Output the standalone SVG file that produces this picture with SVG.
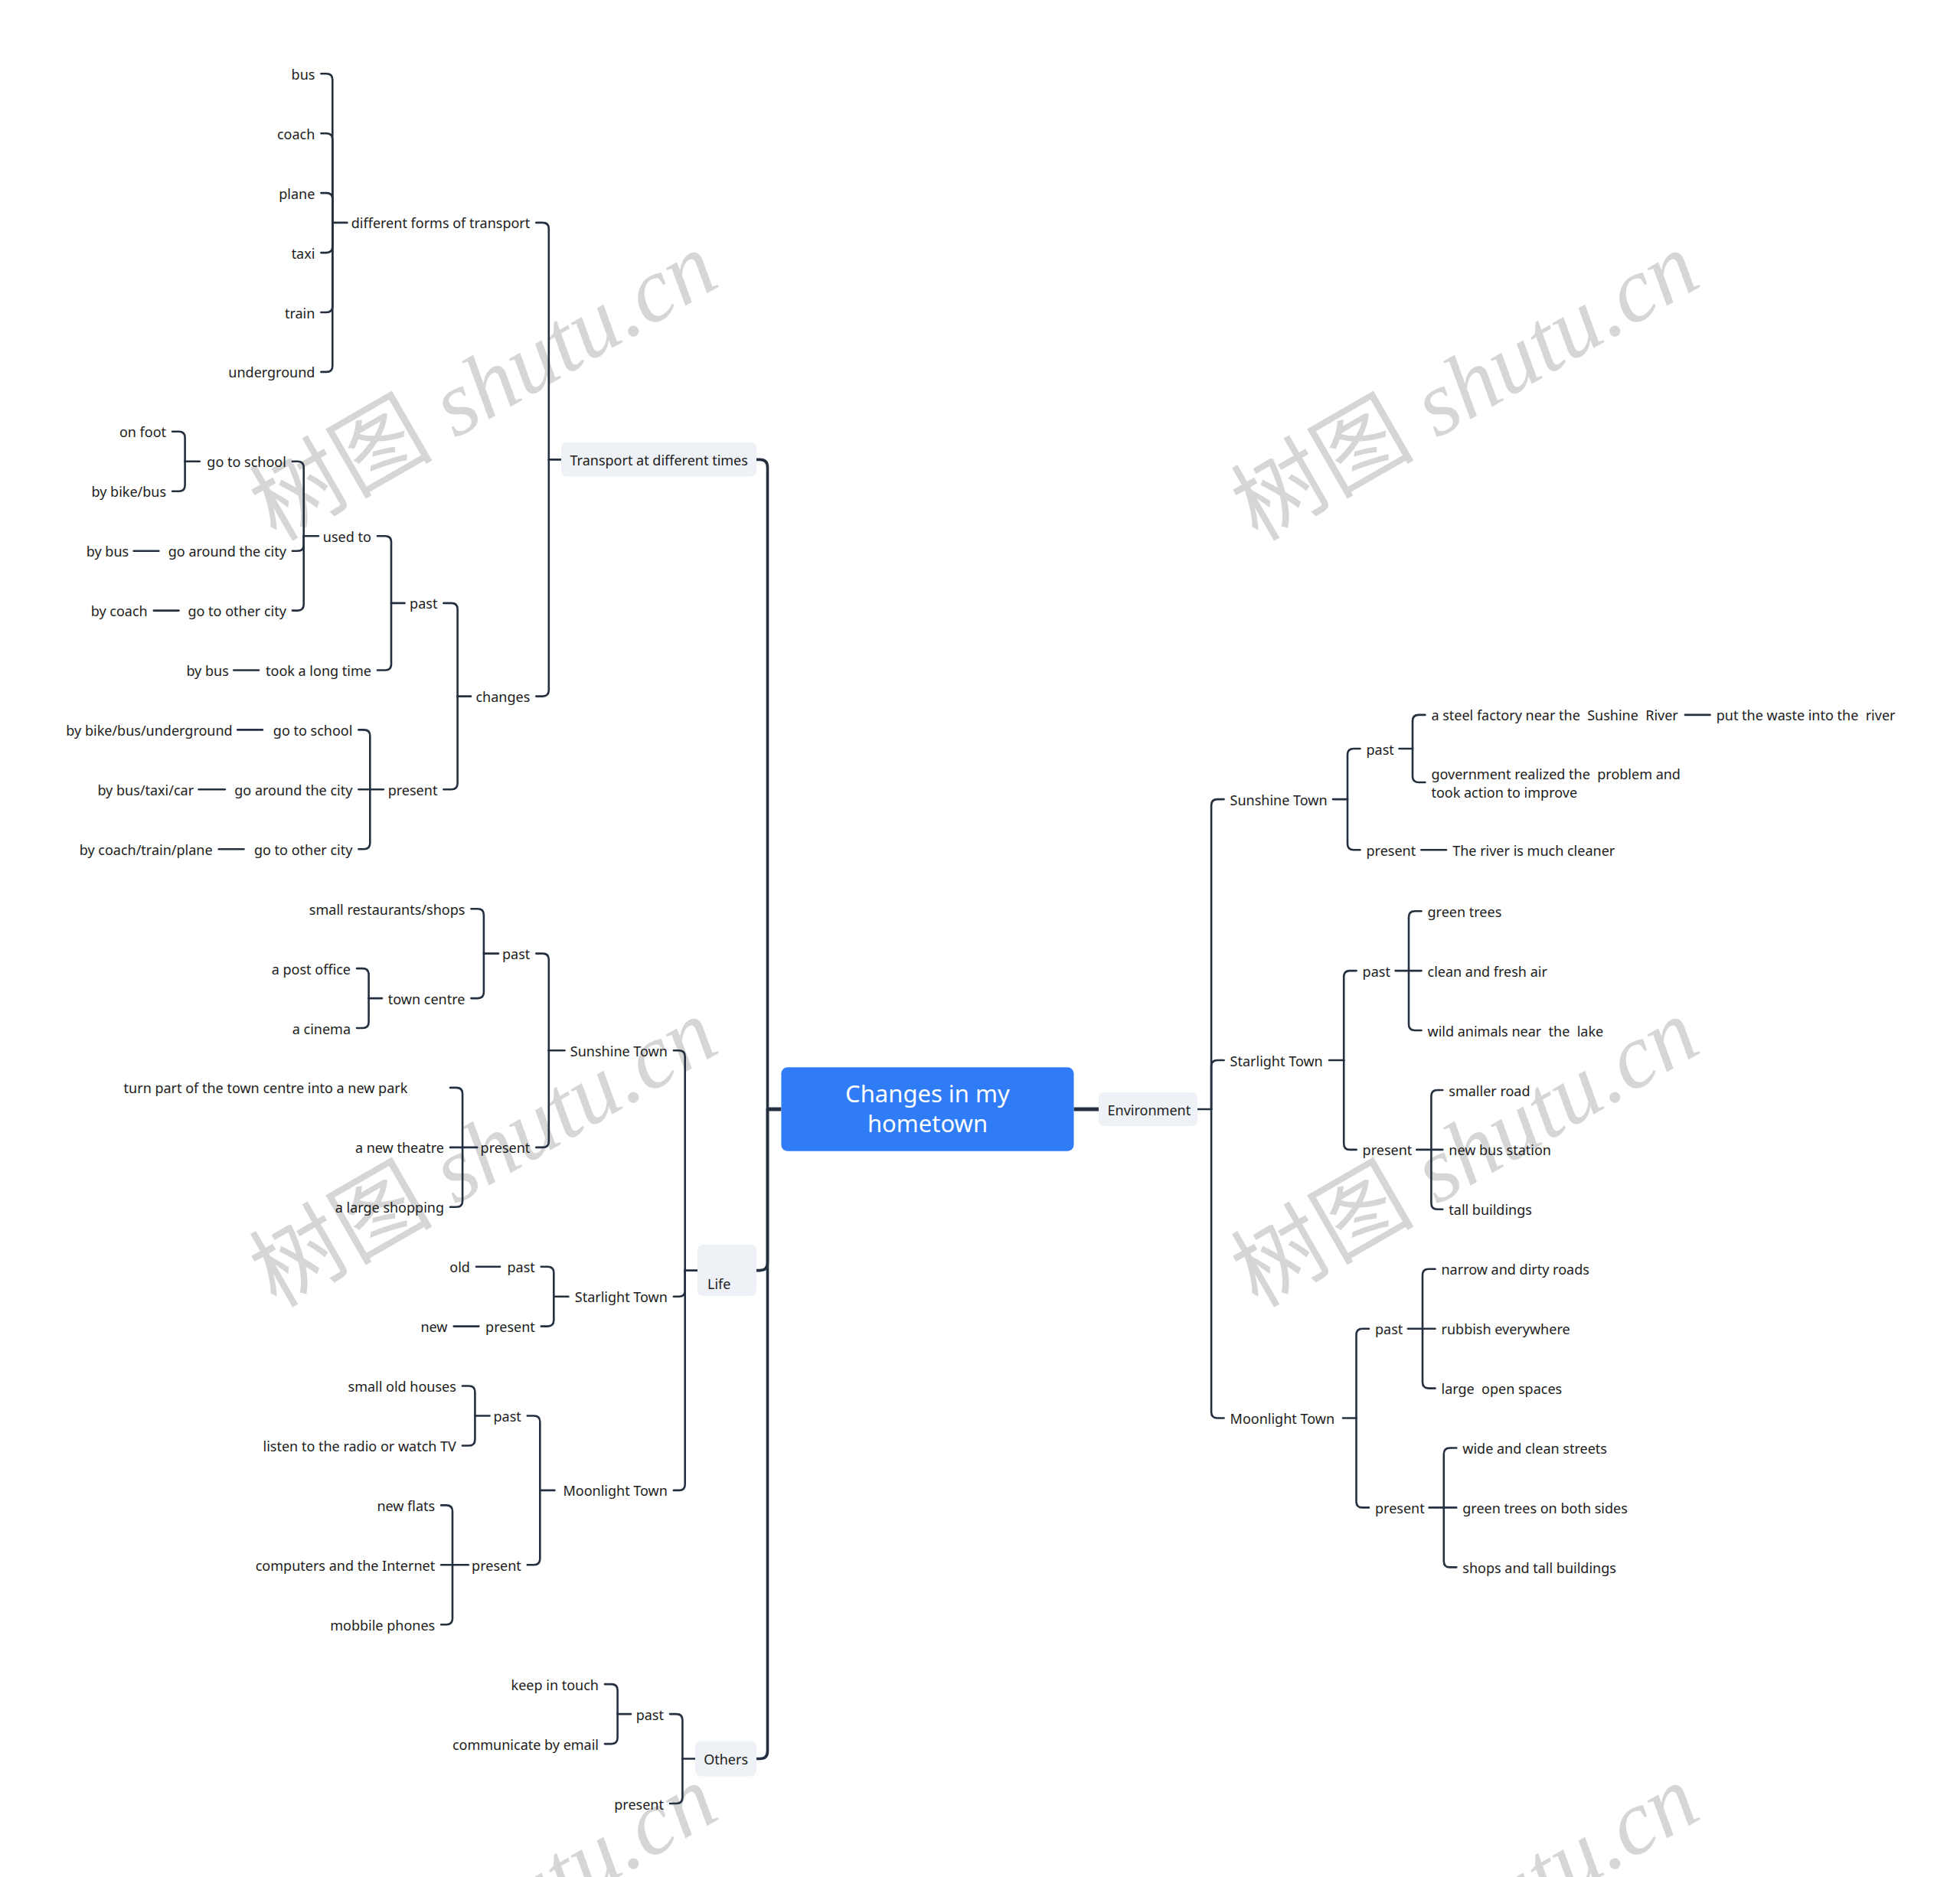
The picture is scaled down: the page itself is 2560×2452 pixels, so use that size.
<svg xmlns="http://www.w3.org/2000/svg" width="2560" height="2452" viewBox="0 0 2560 2452">
<style>
.t{font-family:"Noto Sans","Open Sans","Liberation Sans",sans-serif;font-size:18px;fill:#1c1c1c;white-space:pre;transform:translateY(1.5px)}
.e{text-anchor:end}
.c path{fill:none;stroke:#243040;stroke-width:2.6;stroke-linecap:round;stroke-linejoin:round}
.c path.m{stroke-width:3.6}
.c path.h{stroke-width:5;stroke-linecap:butt}
.box{fill:#eef1f5}
.wm{font-family:"Liberation Serif","Noto Sans CJK SC",serif;font-size:120px;fill:#d6d6d6;text-anchor:middle}
.wm tspan.i{font-style:italic}
.title{font-family:"Noto Sans","Open Sans",sans-serif;font-size:31px;fill:#ffffff;text-anchor:middle}
</style>
<rect width="2560" height="2452" fill="#ffffff"/>
<g id="watermarks">
<text class="wm" transform="translate(652,540) rotate(-30)">树图 <tspan class="i">shutu.cn</tspan></text>
<text class="wm" transform="translate(1934,540) rotate(-30)">树图 <tspan class="i">shutu.cn</tspan></text>
<text class="wm" transform="translate(652,1541) rotate(-30)">树图 <tspan class="i">shutu.cn</tspan></text>
<text class="wm" transform="translate(1934,1541) rotate(-30)">树图 <tspan class="i">shutu.cn</tspan></text>
<text class="wm" transform="translate(652,2542) rotate(-30)">树图 <tspan class="i">shutu.cn</tspan></text>
<text class="wm" transform="translate(1934,2542) rotate(-30)">树图 <tspan class="i">shutu.cn</tspan></text>
</g>
<g id="connectors" class="c">
<path class="h" d="M1020.4,1449 H1002.5"/>
<path class="h" d="M1402.5,1449 H1435"/>
<path class="m" d="M988,600.4 H992.5 Q1002.5,600.4 1002.5,610.4 V1449"/>
<path class="m" d="M988,1659.6 H992.5 Q1002.5,1659.6 1002.5,1649.6 V1449"/>
<path class="m" d="M988,2297.5 H992.5 Q1002.5,2297.5 1002.5,2287.5 V1449"/>
<path d="M733,600.4 H716.8"/>
<path d="M700.3,290.9 H708.8 Q716.8,290.9 716.8,298.9 V600.4"/>
<path d="M700.3,909.6 H708.8 Q716.8,909.6 716.8,901.6 V600.4"/>
<path d="M453.4,290.9 H434.3"/>
<path d="M419.4,96.3 H426.3 Q434.3,96.3 434.3,104.3 V290.9"/>
<path d="M419.4,174.2 H426.3 Q434.3,174.2 434.3,182.2 V290.9"/>
<path d="M419.4,252.1 H426.3 Q434.3,252.1 434.3,260.1 V290.9"/>
<path d="M419.4,330.1 H426.3 Q434.3,330.1 434.3,322.1 V290.9"/>
<path d="M419.4,408 H426.3 Q434.3,408 434.3,400 V290.9"/>
<path d="M419.4,485.9 H426.3 Q434.3,485.9 434.3,477.9 V290.9"/>
<path d="M615,909.6 H597.6"/>
<path d="M579.4,787.9 H589.6 Q597.6,787.9 597.6,795.9 V909.6"/>
<path d="M579.4,1031.3 H589.6 Q597.6,1031.3 597.6,1023.3 V909.6"/>
<path d="M528.5,787.9 H511"/>
<path d="M492.9,700.2 H503 Q511,700.2 511,708.2 V787.9"/>
<path d="M492.9,875.5 H503 Q511,875.5 511,867.5 V787.9"/>
<path d="M305.3,875.5 H338"/>
<path d="M415.9,700.2 H396.7"/>
<path d="M381.9,602.7 H388.7 Q396.7,602.7 396.7,610.7 V700.2"/>
<path d="M381.9,719.7 H388.7 Q396.7,719.7 396.7,711.7 V700.2"/>
<path d="M381.9,797.6 H388.7 Q396.7,797.6 396.7,789.6 V700.2"/>
<path d="M174.7,719.7 H207.4"/>
<path d="M200.8,797.6 H233.5"/>
<path d="M260.8,602.7 H241.6"/>
<path d="M225.1,563.8 H233.6 Q241.6,563.8 241.6,571.8 V602.7"/>
<path d="M225.1,641.7 H233.6 Q241.6,641.7 241.6,633.7 V602.7"/>
<path d="M500.8,1031.3 H483.3"/>
<path d="M468.4,953.4 H475.3 Q483.3,953.4 483.3,961.4 V1031.3"/>
<path d="M468.4,1031.3 H483.3"/>
<path d="M468.4,1109.3 H475.3 Q483.3,1109.3 483.3,1101.3 V1031.3"/>
<path d="M310.2,953.4 H342.9"/>
<path d="M259.6,1031.3 H293.9"/>
<path d="M285.7,1109.3 H318.4"/>
<path d="M911,1659.6 H894.7"/>
<path d="M879.9,1372.3 H886.7 Q894.7,1372.3 894.7,1380.3 V1659.6"/>
<path d="M879.9,1693.7 H886.7 Q894.7,1693.7 894.7,1685.7 V1659.6"/>
<path d="M879.9,1946.9 H886.7 Q894.7,1946.9 894.7,1938.9 V1659.6"/>
<path d="M737.5,1372.3 H716.8"/>
<path d="M700.3,1245.6 H708.8 Q716.8,1245.6 716.8,1253.6 V1372.3"/>
<path d="M700.3,1498.9 H708.8 Q716.8,1498.9 716.8,1490.9 V1372.3"/>
<path d="M651,1245.6 H631.9"/>
<path d="M615.4,1187.2 H623.9 Q631.9,1187.2 631.9,1195.2 V1245.6"/>
<path d="M615.4,1304.1 H623.9 Q631.9,1304.1 631.9,1296.1 V1245.6"/>
<path d="M499.1,1304.1 H481.6"/>
<path d="M466,1265.1 H473.6 Q481.6,1265.1 481.6,1273.1 V1304.1"/>
<path d="M466,1343 H473.6 Q481.6,1343 481.6,1335 V1304.1"/>
<path d="M623.2,1498.9 H604.1"/>
<path d="M588,1420.9 H596.1 Q604.1,1420.9 604.1,1428.9 V1498.9"/>
<path d="M588,1498.9 H604.1"/>
<path d="M588,1576.8 H596.1 Q604.1,1576.8 604.1,1568.8 V1498.9"/>
<path d="M742.4,1693.7 H723.3"/>
<path d="M706.8,1654.7 H715.3 Q723.3,1654.7 723.3,1662.7 V1693.7"/>
<path d="M706.8,1732.6 H715.3 Q723.3,1732.6 723.3,1724.6 V1693.7"/>
<path d="M622,1654.7 H653.1"/>
<path d="M592.7,1732.6 H625.3"/>
<path d="M724.4,1946.9 H705.3"/>
<path d="M688.8,1849.5 H697.3 Q705.3,1849.5 705.3,1857.5 V1946.9"/>
<path d="M688.8,2044.3 H697.3 Q705.3,2044.3 705.3,2036.3 V1946.9"/>
<path d="M639.5,1849.5 H620.4"/>
<path d="M603.9,1810.5 H612.4 Q620.4,1810.5 620.4,1818.5 V1849.5"/>
<path d="M603.9,1888.5 H612.4 Q620.4,1888.5 620.4,1880.5 V1849.5"/>
<path d="M611.8,2044.3 H591"/>
<path d="M576.2,1966.4 H583 Q591,1966.4 591,1974.4 V2044.3"/>
<path d="M576.2,2044.3 H591"/>
<path d="M576.2,2122.2 H583 Q591,2122.2 591,2114.2 V2044.3"/>
<path d="M907.8,2297.5 H891.4"/>
<path d="M875,2239.1 H883.4 Q891.4,2239.1 891.4,2247.1 V2297.5"/>
<path d="M875,2356 H883.4 Q891.4,2356 891.4,2348 V2297.5"/>
<path d="M824,2239.1 H806.6"/>
<path d="M790,2200.1 H798.6 Q806.6,2200.1 806.6,2208.1 V2239.1"/>
<path d="M790,2278.1 H798.6 Q806.6,2278.1 806.6,2270.1 V2239.1"/>
<path d="M1564.1,1449 H1582.1"/>
<path d="M1598.6,1044.1 H1590.1 Q1582.1,1044.1 1582.1,1052.1 V1449"/>
<path d="M1598.6,1385 H1590.1 Q1582.1,1385 1582.1,1393 V1449"/>
<path d="M1598.6,1852.5 H1590.1 Q1582.1,1852.5 1582.1,1844.5 V1449"/>
<path d="M1740.9,1044.1 H1760"/>
<path d="M1776.5,978 H1768 Q1760,978 1760,986 V1044.1"/>
<path d="M1776.5,1110.2 H1768 Q1760,1110.2 1760,1102.2 V1044.1"/>
<path d="M1827.5,978 H1845"/>
<path d="M1861.4,933.9 H1853 Q1845,933.9 1845,941.9 V978"/>
<path d="M1861.4,1022 H1853 Q1845,1022 1845,1014 V978"/>
<path d="M2200.9,933.9 H2233.5"/>
<path d="M1856.4,1110.2 H1889"/>
<path d="M1736,1385 H1755.2"/>
<path d="M1771.6,1268.1 H1763.2 Q1755.2,1268.1 1755.2,1276.1 V1385"/>
<path d="M1771.6,1501.9 H1763.2 Q1755.2,1501.9 1755.2,1493.9 V1385"/>
<path d="M1822.6,1268.1 H1840"/>
<path d="M1856.5,1190.2 H1848 Q1840,1190.2 1840,1198.2 V1268.1"/>
<path d="M1856.5,1268.1 H1840"/>
<path d="M1856.5,1346 H1848 Q1840,1346 1840,1338 V1268.1"/>
<path d="M1850.3,1501.9 H1869.4"/>
<path d="M1884.3,1424 H1877.4 Q1869.4,1424 1869.4,1432 V1501.9"/>
<path d="M1884.3,1501.9 H1869.4"/>
<path d="M1884.3,1579.8 H1877.4 Q1869.4,1579.8 1869.4,1571.8 V1501.9"/>
<path d="M1754,1852.5 H1771.5"/>
<path d="M1788,1735.7 H1779.5 Q1771.5,1735.7 1771.5,1743.7 V1852.5"/>
<path d="M1788,1969.4 H1779.5 Q1771.5,1969.4 1771.5,1961.4 V1852.5"/>
<path d="M1838.9,1735.7 H1858"/>
<path d="M1874.5,1657.7 H1866 Q1858,1657.7 1858,1665.7 V1735.7"/>
<path d="M1874.5,1735.7 H1858"/>
<path d="M1874.5,1813.6 H1866 Q1858,1813.6 1858,1805.6 V1735.7"/>
<path d="M1866.6,1969.4 H1885.8"/>
<path d="M1902.3,1891.5 H1893.8 Q1885.8,1891.5 1885.8,1899.5 V1969.4"/>
<path d="M1902.3,1969.4 H1885.8"/>
<path d="M1902.3,2047.4 H1893.8 Q1885.8,2047.4 1885.8,2039.4 V1969.4"/>
</g>
<g id="center"><rect x="1020.4" y="1394.3" width="382.1" height="109.4" rx="8" fill="#2f7cf6"/><text class="title" x="1211.5" y="1440">Changes in my</text><text class="title" x="1211.5" y="1479">hometown</text></g>
<g id="transport"><rect class="box" x="733" y="578" width="255" height="44.5" rx="7"/><text class="t" x="744.5" y="606.4">Transport at different times</text></g>
<g id="life"><rect class="box" x="911" y="1626" width="77" height="67" rx="7"/><text class="t" x="924" y="1682">Life</text></g>
<g id="others"><rect class="box" x="908" y="2274.5" width="80" height="46" rx="7"/><text class="t" x="919.2" y="2303.5">Others</text></g>
<g id="environment"><rect class="box" x="1435" y="1427" width="129" height="44" rx="7"/><text class="t" x="1446.6" y="1455">Environment</text></g>
<g id="forms"><text class="t e" x="692.3" y="296.9">different forms of transport</text></g>
<g id="bus"><text class="t e" x="411.4" y="102.3">bus</text></g>
<g id="coach"><text class="t e" x="411.4" y="180.2">coach</text></g>
<g id="plane"><text class="t e" x="411.4" y="258.1">plane</text></g>
<g id="taxi"><text class="t e" x="411.4" y="336.1">taxi</text></g>
<g id="train"><text class="t e" x="411.4" y="414">train</text></g>
<g id="underground"><text class="t e" x="411.4" y="491.9">underground</text></g>
<g id="changes"><text class="t e" x="692.3" y="915.6">changes</text></g>
<g id="t-past"><text class="t e" x="571.4" y="793.9">past</text></g>
<g id="t-present"><text class="t e" x="571.4" y="1037.3">present</text></g>
<g id="used-to"><text class="t e" x="484.9" y="706.2">used to</text></g>
<g id="long-time"><text class="t e" x="484.9" y="881.5">took a long time</text></g>
<g id="long-time-bus"><text class="t e" x="298.8" y="881.5">by bus</text></g>
<g id="u-school"><text class="t e" x="373.9" y="608.7">go to school</text></g>
<g id="u-around"><text class="t e" x="373.9" y="725.7">go around the city</text></g>
<g id="u-other"><text class="t e" x="373.9" y="803.6">go to other city</text></g>
<g id="on-foot"><text class="t e" x="217.1" y="569.8">on foot</text></g>
<g id="bike-bus"><text class="t e" x="217.1" y="647.7">by bike/bus</text></g>
<g id="u-around-bus"><text class="t e" x="168.2" y="725.7">by bus</text></g>
<g id="u-other-coach"><text class="t e" x="192.7" y="803.6">by coach</text></g>
<g id="p-school"><text class="t e" x="460.4" y="959.4">go to school</text></g>
<g id="p-around"><text class="t e" x="460.4" y="1037.3">go around the city</text></g>
<g id="p-other"><text class="t e" x="460.4" y="1115.3">go to other city</text></g>
<g id="p-school-by"><text class="t e" x="303.7" y="959.4">by bike/bus/underground</text></g>
<g id="p-around-by"><text class="t e" x="253.1" y="1037.3">by bus/taxi/car</text></g>
<g id="p-other-by"><text class="t e" x="277.6" y="1115.3">by coach/train/plane</text></g>
<g id="l-sunshine"><text class="t e" x="871.9" y="1378.3">Sunshine Town</text></g>
<g id="l-starlight"><text class="t e" x="871.9" y="1699.7">Starlight Town</text></g>
<g id="l-moonlight"><text class="t e" x="871.9" y="1952.9">Moonlight Town</text></g>
<g id="ls-past"><text class="t e" x="692.3" y="1251.6">past</text></g>
<g id="ls-present"><text class="t e" x="692.3" y="1504.9">present</text></g>
<g id="small-rest"><text class="t e" x="607.4" y="1193.2">small restaurants/shops</text></g>
<g id="town-centre"><text class="t e" x="607.4" y="1310.1">town centre</text></g>
<g id="post-office"><text class="t e" x="458" y="1271.1">a post office</text></g>
<g id="cinema"><text class="t e" x="458" y="1349">a cinema</text></g>
<g id="new-park"><text class="t" x="161.6" y="1426.9">turn part of the town centre into a new park</text></g>
<g id="theatre"><text class="t e" x="580" y="1504.9">a new theatre</text></g>
<g id="shopping"><text class="t e" x="580" y="1582.8">a large shopping</text></g>
<g id="lst-past"><text class="t e" x="698.8" y="1660.7">past</text></g>
<g id="lst-present"><text class="t e" x="698.8" y="1738.6">present</text></g>
<g id="old"><text class="t e" x="613.9" y="1660.7">old</text></g>
<g id="new"><text class="t e" x="584.5" y="1738.6">new</text></g>
<g id="lm-past"><text class="t e" x="680.8" y="1855.5">past</text></g>
<g id="lm-present"><text class="t e" x="680.8" y="2050.3">present</text></g>
<g id="old-houses"><text class="t e" x="595.9" y="1816.5">small old houses</text></g>
<g id="radio"><text class="t e" x="595.9" y="1894.5">listen to the radio or watch TV</text></g>
<g id="flats"><text class="t e" x="568.2" y="1972.4">new flats</text></g>
<g id="computers"><text class="t e" x="568.2" y="2050.3">computers and the Internet</text></g>
<g id="phones"><text class="t e" x="568.2" y="2128.2">mobbile phones</text></g>
<g id="o-past"><text class="t e" x="867" y="2245.1">past</text></g>
<g id="o-present"><text class="t e" x="867" y="2362">present</text></g>
<g id="touch"><text class="t e" x="782" y="2206.1">keep in touch</text></g>
<g id="email"><text class="t e" x="782" y="2284.1">communicate by email</text></g>
<g id="e-sunshine"><text class="t" x="1606.6" y="1050.1">Sunshine Town</text></g>
<g id="e-starlight"><text class="t" x="1606.6" y="1391">Starlight Town</text></g>
<g id="e-moonlight"><text class="t" x="1606.6" y="1858.5">Moonlight Town</text></g>
<g id="es-past"><text class="t" x="1784.5" y="984">past</text></g>
<g id="es-present"><text class="t" x="1784.5" y="1116.2">present</text></g>
<g id="steel"><text class="t" x="1869.4" y="939.9">a steel factory near the  Sushine  River</text></g>
<g id="waste"><text class="t" x="2241.7" y="939.9">put the waste into the  river</text></g>
<g id="government"><text class="t" x="1869.4" y="1016"><tspan x="1869.4">government realized the  problem and</tspan><tspan x="1869.4" dy="24">took action to improve</tspan></text></g>
<g id="cleaner"><text class="t" x="1897.2" y="1116.2">The river is much cleaner</text></g>
<g id="est-past"><text class="t" x="1779.6" y="1274.1">past</text></g>
<g id="est-present"><text class="t" x="1779.6" y="1507.9">present</text></g>
<g id="green-trees"><text class="t" x="1864.5" y="1196.2">green trees</text></g>
<g id="fresh-air"><text class="t" x="1864.5" y="1274.1">clean and fresh air</text></g>
<g id="wild"><text class="t" x="1864.5" y="1352">wild animals near  the  lake</text></g>
<g id="smaller-road"><text class="t" x="1892.3" y="1430">smaller road</text></g>
<g id="bus-station"><text class="t" x="1892.3" y="1507.9">new bus station</text></g>
<g id="tall-buildings"><text class="t" x="1892.3" y="1585.8">tall buildings</text></g>
<g id="em-past"><text class="t" x="1796" y="1741.7">past</text></g>
<g id="em-present"><text class="t" x="1796" y="1975.4">present</text></g>
<g id="narrow"><text class="t" x="1882.5" y="1663.7">narrow and dirty roads</text></g>
<g id="rubbish"><text class="t" x="1882.5" y="1741.7">rubbish everywhere</text></g>
<g id="open-spaces"><text class="t" x="1882.5" y="1819.6">large  open spaces</text></g>
<g id="wide"><text class="t" x="1910.3" y="1897.5">wide and clean streets</text></g>
<g id="both-sides"><text class="t" x="1910.3" y="1975.4">green trees on both sides</text></g>
<g id="shops-tall"><text class="t" x="1910.3" y="2053.4">shops and tall buildings</text></g>
</svg>
